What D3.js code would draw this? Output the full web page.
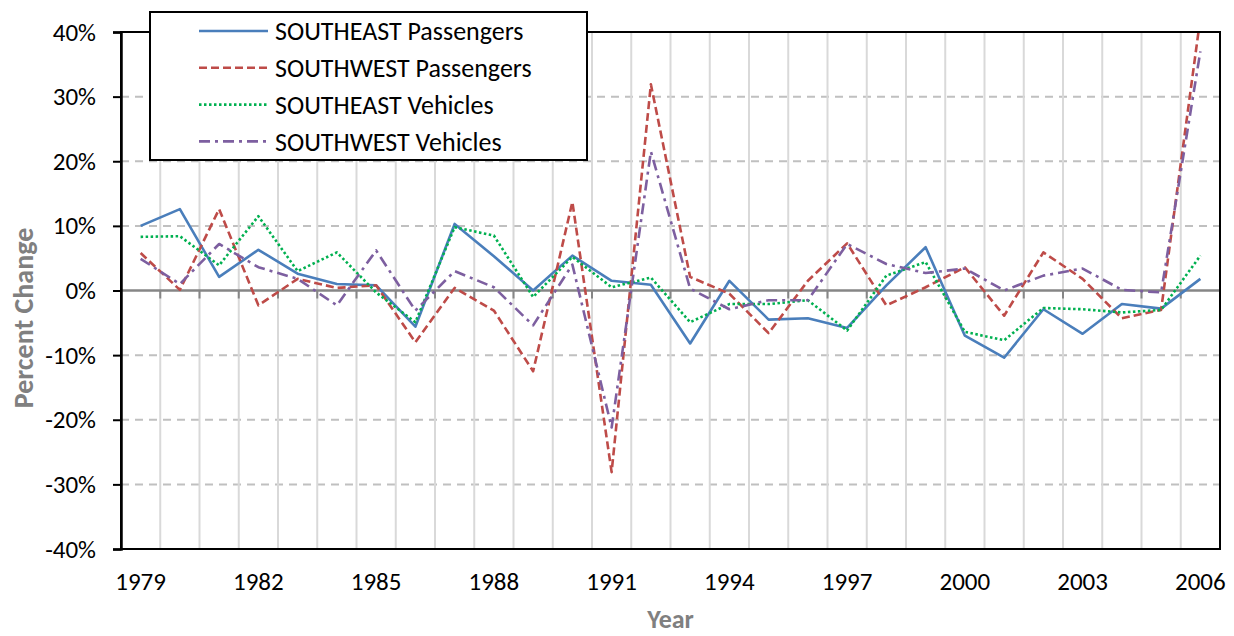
<!DOCTYPE html>
<html lang="en">
<head>
<meta charset="UTF-8">
<title>Percent Change - Passengers and Vehicles</title>
<script src="https://d3js.org/d3.v7.min.js"></script>
<style>
body {
  margin: 0;
  background: white;
  font-family: Carlito, Lato, "Open Sans", sans-serif;
}
.tick text {
  font-family: Carlito, Lato, "Open Sans", sans-serif;
}
</style>
</head>
<body>
<div id="chart"></div>

<script>
// data (percent change per year)
var years = d3.range(1979, 2007);
var yearLabels = [1979, 1982, 1985, 1988, 1991, 1994, 1997, 2000, 2003, 2006];
var yTicks = [-40, -30, -20, -10, 0, 10, 20, 30, 40];

var sePassengers = [10.0, 12.6, 2.1, 6.3, 2.6, 1.0, 0.8, -5.6, 10.3, 5.3, 0.0, 5.4, 1.5, 0.9,
  -8.2, 1.5, -4.5, -4.3, -5.8, 0.8, 6.7, -7.0, -10.4, -2.9, -6.7, -2.1, -2.8, 1.8];
var swPassengers = [5.8, 0.1, 12.6, -2.3, 1.8, 0.4, 0.8, -8.0, 0.4, -3.1, -12.5, 13.7, -28.1, 31.9,
  2.1, -0.5, -6.6, 1.5, 7.3, -2.3, 0.5, 3.6, -3.9, 5.9, 1.8, -4.3, -3.0, 42.2];
var seVehicles = [8.3, 8.4, 3.9, 11.5, 3.0, 5.9, -0.3, -4.9, 9.8, 8.5, -1.0, 5.2, 0.5, 2.0,
  -4.9, -2.1, -2.1, -1.5, -6.2, 2.3, 4.4, -6.4, -7.7, -2.7, -2.9, -3.4, -3.0, 5.4];
var swVehicles = [4.9, 1.0, 7.2, 3.6, 1.8, -2.3, 6.2, -3.1, 3.0, 0.5, -5.4, 4.0, -21.2, 21.5,
  0.3, -2.9, -1.5, -1.5, 7.2, 4.1, 2.7, 3.4, 0.0, 2.3, 3.4, 0.1, -0.3, 37.0];

var series = [
  {name: "SOUTHEAST Passengers", values: sePassengers, color: "#4a7ebb", dash: null},
  {name: "SOUTHWEST Passengers", values: swPassengers, color: "#be4b48", dash: "8,4"},
  {name: "SOUTHEAST Vehicles", values: seVehicles, color: "#00b050", dash: "2.5,2.5"},
  {name: "SOUTHWEST Vehicles", values: swVehicles, color: "#7d5fa0", dash: "11,5,3,5"}
];

// layout
var W = 1234, H = 636;
var margin = {left: 121, right: 1220, top: 32, bottom: 549};

var svg = d3.select("#chart")
  .append("svg")
    .attr("width", W)
    .attr("height", H);

var x = d3.scaleBand()
  .domain(years)
  .range([margin.left, margin.right])
  .padding(0);

var y = d3.scaleLinear()
  .domain([-40, 40])
  .range([margin.bottom, margin.top]);

var cx = function(yr) { return x(yr) + x.bandwidth() / 2; };

// horizontal dashed gridlines
svg.append("g")
  .selectAll("line")
  .data(yTicks.filter(function(d) { return d != 0 && d != 40 && d != -40; }))
  .enter()
  .append("line")
    .attr("x1", margin.left)
    .attr("x2", margin.right)
    .attr("y1", function(d) { return y(d); })
    .attr("y2", function(d) { return y(d); })
    .style("stroke", "#c0c0c0")
    .style("stroke-width", 2)
    .style("stroke-dasharray", "8,6");

// vertical gridlines at category boundaries
svg.append("g")
  .selectAll("line")
  .data(years.slice(1))
  .enter()
  .append("line")
    .attr("x1", function(d) { return x(d); })
    .attr("x2", function(d) { return x(d); })
    .attr("y1", margin.top)
    .attr("y2", margin.bottom)
    .style("stroke", "#d9d9d9")
    .style("stroke-width", 2);

// zero axis line with tick marks
svg.append("line")
  .attr("x1", margin.left)
  .attr("x2", margin.right)
  .attr("y1", y(0))
  .attr("y2", y(0))
  .style("stroke", "#868686")
  .style("stroke-width", 2.5);

svg.append("g")
  .selectAll("line")
  .data(years.slice(1))
  .enter()
  .append("line")
    .attr("x1", function(d) { return x(d); })
    .attr("x2", function(d) { return x(d); })
    .attr("y1", y(0))
    .attr("y2", y(0) + 8)
    .style("stroke", "#868686")
    .style("stroke-width", 2);

// clip to plot area
svg.append("clipPath")
  .attr("id", "plotclip")
  .append("rect")
    .attr("x", margin.left)
    .attr("y", margin.top)
    .attr("width", margin.right - margin.left)
    .attr("height", margin.bottom - margin.top);

var line = d3.line()
  .x(function(d, i) { return cx(years[i]); })
  .y(function(d) { return y(d); });

svg.append("g")
  .attr("clip-path", "url(#plotclip)")
  .selectAll("path")
  .data(series)
  .enter()
  .append("path")
    .attr("d", function(s) { return line(s.values); })
    .style("fill", "none")
    .style("stroke", function(s) { return s.color; })
    .style("stroke-width", 2.6)
    .style("stroke-dasharray", function(s) { return s.dash; })
    .style("stroke-linejoin", "round");

// plot border
svg.append("rect")
  .attr("x", margin.left)
  .attr("y", margin.top)
  .attr("width", margin.right - margin.left)
  .attr("height", margin.bottom - margin.top)
  .style("fill", "none")
  .style("stroke", "black")
  .style("stroke-width", 2);

// y axis
var yAxis = svg.append("g")
  .attr("transform", "translate(" + margin.left + ",0)")
  .call(d3.axisLeft(y)
    .tickValues(yTicks)
    .tickSize(8)
    .tickPadding(17)
    .tickFormat(function(d) { return d + "%"; }));
yAxis.select(".domain")
  .style("stroke", "black")
  .style("stroke-width", 2.5);
yAxis.selectAll(".tick line").style("stroke", "black").style("stroke-width", 2);
yAxis.selectAll(".tick text")
  .style("font-size", "25px")
  .style("fill", "black");

// x axis labels (every third year)
var xAxis = svg.append("g")
  .attr("transform", "translate(0," + margin.bottom + ")")
  .call(d3.axisBottom(x)
    .tickValues(yearLabels)
    .tickSize(0)
    .tickPadding(23));
xAxis.select(".domain").remove();
xAxis.selectAll(".tick text")
  .style("font-size", "25px")
  .style("fill", "black");

// axis titles
svg.append("text")
  .attr("transform", "translate(" + 33 + "," + 318 + ") rotate(-90)")
  .style("text-anchor", "middle")
  .style("font-size", "28px")
  .style("font-weight", "bold")
  .style("fill", "#808080")
  .text("Percent Change");

svg.append("text")
  .attr("x", (margin.left + margin.right) / 2)
  .attr("y", 628)
  .style("text-anchor", "middle")
  .style("font-size", "26px")
  .style("font-weight", "bold")
  .style("fill", "#808080")
  .text("Year");

// legend
var legend = svg.append("g");
legend.append("rect")
  .attr("x", 150)
  .attr("y", 12)
  .attr("width", 437)
  .attr("height", 148)
  .style("fill", "white")
  .style("stroke", "black")
  .style("stroke-width", 2);

var rows = legend.selectAll("g.row")
  .data(series)
  .enter()
  .append("g")
    .attr("class", "row")
    .attr("transform", function(d, i) { return "translate(0," + (31 + i * 36.8) + ")"; });

rows.append("line")
  .attr("x1", 199)
  .attr("x2", 268)
  .style("stroke", function(s) { return s.color; })
  .style("stroke-width", 2.6)
  .style("stroke-dasharray", function(s) { return s.dash; });

rows.append("text")
  .attr("x", 275)
  .attr("dy", "0.36em")
  .style("font-size", "26px")
  .style("fill", "black")
  .text(function(s) { return s.name; });
</script>
</body>
</html>
